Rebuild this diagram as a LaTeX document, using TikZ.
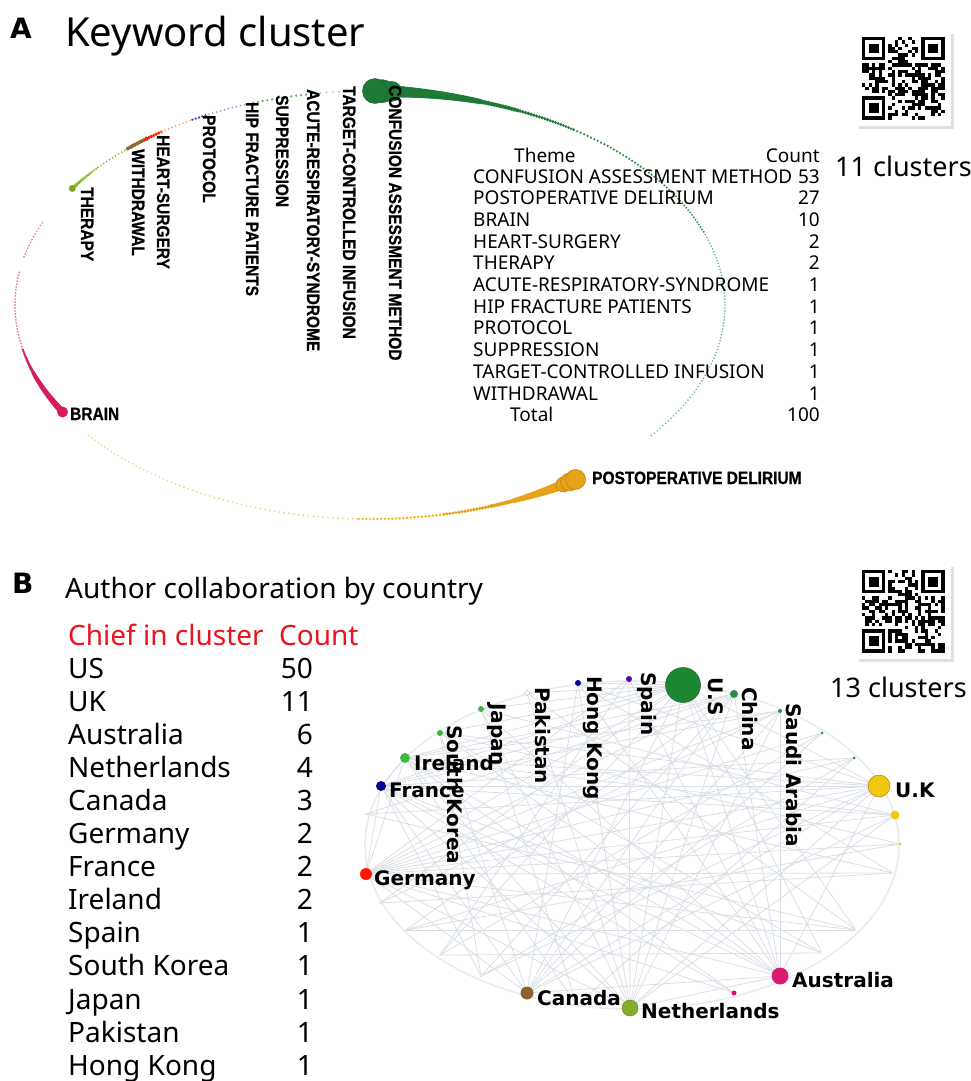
\documentclass[tikz,border=0pt]{standalone}
\usepackage{fontspec}
\setmainfont{Noto Sans}
\newfontfamily\labfont{Liberation Sans}[FakeStretch=0.87, BoldFeatures={FakeBold=0.7}]
\newfontfamily\netfont{DejaVu Sans}
\usetikzlibrary{backgrounds}
\definecolor{camg}{HTML}{1F7A35}
\definecolor{camd}{HTML}{155E27}
\definecolor{midg}{HTML}{2E8B45}
\definecolor{lightg}{HTML}{6CC08A}
\definecolor{pdor}{HTML}{E6A317}
\definecolor{pdord}{HTML}{B07A10}
\definecolor{pale}{HTML}{F3D98A}
\definecolor{brainc}{HTML}{D81B5C}
\definecolor{pinkl}{HTML}{F07AA8}
\definecolor{edgegray}{HTML}{DADFE5}
\definecolor{redtxt}{HTML}{E8141E}
\definecolor{yellowgreen}{HTML}{9ACD32}
\newcommand\kwdots[6]{%
  \foreach \t in {#1,#2,...,#3}{%
    \pgfmathsetmacro\rr{#4+(#5-#4)*(\t-#1)/(#3-#1)}%
    \fill[#6] ({370+355*cos(\t)},{305-214*sin(\t)}) circle[radius=\rr];
  }}
\newcommand\qrpic[3]{%
  \begin{scope}[shift={(#1,#2)}]
    \fill[black!12] (-3,-3) rectangle (92,92);
    \fill[white] (-7,-7) rectangle (89,89);
    \pgfmathsetseed{#3}
    \foreach \i in {0,...,24}{\foreach \j in {0,...,24}{%
      \pgfmathtruncatemacro\infd{(\i<8 && \j<8) || (\i>16 && \j<8) || (\i<8 && \j>16)}%
      \ifnum\infd=0
        \pgfmathrandominteger{\onq}{0}{1}%
        \ifnum\onq=1 \fill[black] (\i*3.3,\j*3.3) rectangle ++(3.3,3.3);\fi
      \fi}}
    \foreach \fx/\fy in {0/0,18/0,0/18}{%
      \fill[black] (\fx*3.3,\fy*3.3) rectangle ++(23.1,23.1);
      \fill[white] (\fx*3.3+3.3,\fy*3.3+3.3) rectangle ++(16.5,16.5);
      \fill[black] (\fx*3.3+6.6,\fy*3.3+6.6) rectangle ++(9.9,9.9);}
  \end{scope}}
\begin{document}
\begin{tikzpicture}[x=1pt,y=-1pt,
  kwlab/.style={font=\labfont\bfseries\fontsize{17.8}{18}\selectfont, inner sep=0, anchor=base west},
  kwrot/.style={kwlab, rotate=-90},
  tabtxt/.style={font=\fontsize{19}{22}\selectfont, inner sep=0},
  cntxt/.style={font=\fontsize{28}{30}\selectfont, inner sep=0},
  panel/.style={font=\netfont\bfseries\fontsize{28}{30}\selectfont, inner sep=0, anchor=base west},
  netlab/.style={font=\netfont\bfseries\fontsize{20}{20}\selectfont, inner sep=0, anchor=base west},
  netrot/.style={netlab, rotate=-90},
  netedge/.style={draw=edgegray, line width=0.8},
  cn/.style={circle, inner sep=0, minimum size=#1},
  ]
\useasboundingbox (0,0) rectangle (971,1081);

% ================= Panel A =================
\node[panel] (pA) at (10,39) {A};
\node[font=\fontsize{40}{44}\selectfont, inner sep=0, anchor=base west] (tA) at (65,47) {Keyword cluster};
\qrpic{862}{37}{11}
\node[font=\fontsize{27}{30}\selectfont, inner sep=0, anchor=base west] (cA) at (835,176) {11 clusters};

% keyword arc
% green
\kwdots{20}{19.2}{-38}{1.0}{0.9}{lightg}
\kwdots{55}{54.3}{20}{1.3}{1.0}{midg}
\kwdots{72}{71.5}{55}{2.4}{1.4}{camg}
\kwdots{86}{85.6}{72}{6}{2.8}{camg}
\foreach \t/\r in {86.5/10,88/11.5,89.2/12.5}{
  \fill[camg, draw=camd, line width=0.4] ({370+355*cos(\t)},{305-214*sin(\t)}) circle[radius=\r];}
% yellow / orange
\kwdots{-92}{-92.8}{-143}{1.1}{1.0}{pale}
\kwdots{-78}{-78.6}{-92}{1.4}{1.2}{pdor!80!yellow}
\kwdots{-66}{-66.5}{-78}{2.2}{1.6}{pdor}
\kwdots{-56}{-56.4}{-66}{5.5}{2.5}{pdor}
\foreach \t/\r in {-57/7.5,-55.8/9,-54.6/10}{
  \fill[pdor, draw=pdord, line width=0.4] ({370+355*cos(\t)},{305-214*sin(\t)}) circle[radius=\r];}
% pink
\kwdots{-168}{-168.8}{-189}{1.1}{1.0}{pinkl}
\kwdots{-193}{-193.8}{-203}{1.0}{0.9}{pinkl}
\kwdots{-151}{-151.5}{-168}{3.4}{1.2}{brainc}
\fill[brainc] ({370+355*cos(-150)},{305-214*sin(-150)}) circle[radius=5.5];
% upper-left multicolour
\fill[yellowgreen!80!black] ({370+355*cos(147)},{305-214*sin(147)}) circle[radius=3.5];
\kwdots{146}{145.5}{140}{2}{1}{yellowgreen!90!black}
\kwdots{140}{139.3}{133}{1}{1}{yellowgreen!90!black}
\kwdots{133}{132.5}{129}{2}{2}{brown!80!black}
\kwdots{129}{128.5}{126}{2}{1.6}{red!75!orange}
\kwdots{126}{125.3}{120}{1}{1}{orange!45!pink}
\kwdots{120}{119.4}{117}{1.3}{1.3}{blue!45!gray}
\kwdots{117}{116.3}{110}{1}{1}{blue!25!gray!60}
\kwdots{110}{109.2}{100}{1.2}{1.2}{green!55!black!70}
\kwdots{99}{98}{93}{0.9}{0.9}{green!45!black!40}

% rotated keyword labels
\node[kwrot] (kCAM) at (389,85) {CONFUSION ASSESSMENT METHOD};
\node[kwrot] (kTCI) at (343,86) {TARGET-CONTROLLED INFUSION};
\node[kwrot] (kARS) at (307,89) {ACUTE-RESPIRATORY-SYNDROME};
\node[kwrot] (kSUP) at (276,95) {SUPPRESSION};
\node[kwrot] (kHIP) at (246,102) {HIP FRACTURE PATIENTS};
\node[kwrot] (kPRO) at (203,115) {PROTOCOL};
\node[kwrot] (kHS) at (157,135) {HEART-SURGERY};
\node[kwrot] (kWD) at (132,149) {WITHDRAWAL};
\node[kwrot] (kTH) at (81,187) {THERAPY};
\node[kwlab] (kBR) at (70,420) {BRAIN};
\node[kwlab] (kPD) at (592,484) {POSTOPERATIVE DELIRIUM};

% theme table
\node[tabtxt, anchor=base west] (thH) at (514,162) {Theme};
\node[tabtxt, anchor=base east] (thC) at (820,162) {Count};
\foreach \nm/\v [count=\k from 0] in {CONFUSION ASSESSMENT METHOD/53, POSTOPERATIVE DELIRIUM/27, BRAIN/10, HEART-SURGERY/2, THERAPY/2, ACUTE-RESPIRATORY-SYNDROME/1, HIP FRACTURE PATIENTS/1, PROTOCOL/1, SUPPRESSION/1, TARGET-CONTROLLED INFUSION/1, WITHDRAWAL/1}{
  \node[tabtxt, anchor=base west] (thn\k) at (473,183.3+21.67*\k) {\nm};
  \node[tabtxt, anchor=base east] (thv\k) at (820,183.3+21.67*\k) {\v};
}
\node[tabtxt, anchor=base west] (thT) at (510,421.7) {Total};
\node[tabtxt, anchor=base east] (thTv) at (820,421.7) {100};

% ================= Panel B =================
\node[panel] (pB) at (12,593) {B};
\node[font=\fontsize{28}{30}\selectfont, inner sep=0, anchor=base west] (tB) at (65,598) {Author collaboration by country};
\qrpic{862}{570}{23}
\node[font=\fontsize{27}{30}\selectfont, inner sep=0, anchor=base west] (cB) at (830,697) {13 clusters};

\node[cntxt, anchor=base west, text=redtxt] (chH) at (68,645) {Chief in cluster};
\node[cntxt, anchor=base west, text=redtxt] (chC) at (279,645) {Count};
\foreach \nm/\v [count=\k from 0] in {US/50, UK/11, Australia/6, Netherlands/4, Canada/3, Germany/2, France/2, Ireland/2, Spain/1, South Korea/1, Japan/1, Pakistan/1, Hong Kong/1}{
  \node[cntxt, anchor=base west] (chn\k) at (68,678+33.1*\k) {\nm};
  \node[cntxt, anchor=base east] (chv\k) at (313,678+33.1*\k) {\v};
}

% network nodes
\node[cn=35, fill=camg!90!green, draw=camd, line width=0.5] (us) at (683,685) {};
\node[cn=6, fill=violet!70!blue] (spain) at (629,679) {};
\node[cn=6, fill=blue!60!black] (hk) at (578,683) {};
\node[cn=5, fill=white, draw=gray!60] (pak) at (527,693) {};
\node[cn=6, fill=green!55!black!70] (jap) at (481,709) {};
\node[cn=6, fill=green!60!black!75] (sk) at (440,733) {};
\node[cn=10, fill=green!65!black!75] (ire) at (405,758) {};
\node[cn=10, fill=blue!55!black] (fra) at (381,786) {};
\node[cn=12, fill=red!80!orange] (ger) at (366,874) {};
\node[cn=13, fill=brown!75!black] (can) at (527,993) {};
\node[cn=16, fill=yellowgreen!85!black, draw=yellowgreen!60!black, line width=0.4] (neth) at (630,1008) {};
\node[cn=5, fill=magenta!80!red] (pnk) at (734,993) {};
\node[cn=17, fill=magenta!75!red!90!black] (aus) at (780,976) {};
\node[cn=22, fill=pdor!60!yellow, draw=pdord, line width=0.5] (uk) at (879,786) {};
\node[cn=9, fill=pdor!60!yellow] (uky) at (895,815) {};
\node[cn=3, fill=pdor!60!yellow] (ukt) at (900,844) {};
\node[cn=8, fill=midg] (chi) at (734,694) {};
\node[cn=4, fill=midg] (sau) at (780,711) {};
\node[cn=3, fill=midg] (g1) at (822,733) {};
\node[cn=3, fill=midg] (g2) at (854,758) {};
\node[cn=2, fill=orange!40] (o1) at (366,814) {};
\node[cn=2, fill=red!20] (t1) at (380,903) {};
\node[cn=2, fill=red!20] (t2) at (406,930) {};
\node[cn=2, fill=red!20] (t3) at (440,955) {};
\node[cn=2, fill=red!20] (t4) at (481,976) {};
\node[cn=2, fill=yellowgreen!60] (t5) at (577,1005) {};
\node[cn=2, fill=yellow!30] (t6) at (822,953) {};
\node[cn=2, fill=yellow!30] (t7) at (856,930) {};
\node[cn=2, fill=yellow!30] (t8) at (893,873) {};

\begin{scope}[on background layer]
\draw[edgegray!60, line width=1.6] (632,845) ellipse [x radius=267, y radius=164];
\foreach \a/\b in {us/ger,us/can,us/neth,us/aus,us/uk,us/fra,us/ire,us/sk,us/jap,us/t1,us/t3,us/t6,us/t7,us/pak,us/hk,
 uk/ger,uk/can,uk/fra,uk/ire,uk/neth,uk/aus,uk/t2,uk/t4,uk/sk,uk/o1,uk/hk,
 aus/ger,aus/can,aus/fra,aus/neth,aus/ire,aus/chi,aus/sau,aus/sk,aus/jap,aus/hk,aus/spain,
 neth/ger,neth/fra,neth/ire,neth/hk,neth/spain,neth/jap,neth/pak,neth/chi,neth/sau,
 can/fra,can/ger,can/chi,can/sau,can/sk,can/hk,can/g1,
 ger/fra,ger/ire,ger/chi,ger/sau,ger/t8,ger/spain,ger/g1,ger/g2,ger/uky,ger/ukt,ger/t7,
 fra/ire,fra/sau,fra/chi,fra/g2,fra/uky,fra/t6,fra/t4,
 ire/chi,ire/sau,ire/t5,ire/t8,ire/uky,
 sk/t4,sk/t6,jap/t5,pak/t7,hk/t8,spain/t3,chi/t2,sau/t1,
 g1/t3,g2/t4,uky/neth,uky/can,ukt/t2,t1/t8,t2/t7,t3/t6,o1/t7,o1/chi,
 t4/chi,t5/g2,pnk/ire,pnk/ger,pnk/fra,jap/uky,sk/ukt}{
  \draw[netedge] (\a) -- (\b);}
\end{scope}

% network labels
\node[netlab] (lIre) at (414,770) {Ireland};
\node[netlab] (lFra) at (389,797) {France};
\node[netlab] (lGer) at (374,885) {Germany};
\node[netlab] (lCan) at (537,1005) {Canada};
\node[netlab] (lNet) at (641,1018) {Netherlands};
\node[netlab] (lAus) at (792,987) {Australia};
\node[netlab] (lUK) at (895,797) {U.K};
\node[netrot] (lSK) at (447,725) {South Korea};
\node[netrot] (lJap) at (491,703) {Japan};
\node[netrot] (lPak) at (535,687) {Pakistan};
\node[netrot] (lHK) at (587,676) {Hong Kong};
\node[netrot] (lSp) at (641,672) {Spain};
\node[netrot] (lUS) at (708,677) {U.S};
\node[netrot] (lCh) at (742,687) {China};
\node[netrot] (lSA) at (786,703) {Saudi Arabia};
\end{tikzpicture}
\end{document}
